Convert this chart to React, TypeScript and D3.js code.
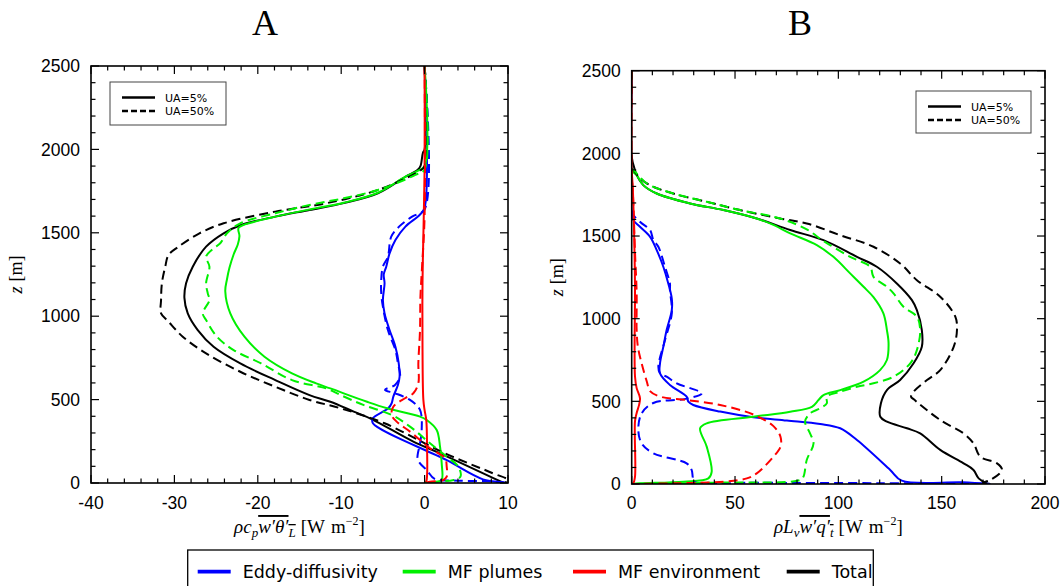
import React from 'react';
import * as d3 from 'd3';

type P = [number, number]; // [flux, z]

// ---------- tick labels ----------
const zTicks = [0, 500, 1000, 1500, 2000, 2500];
const xTicksA = [-40, -30, -20, -10, 0, 10];
const xTicksB = [0, 50, 100, 150, 200];
const legendNames = ['Eddy-diffusivity', 'MF plumes', 'MF environment', 'Total'];
const uaNames = ['UA=5%', 'UA=50%'];
const panelTitles = ['A', 'B'];

// ---------- Panel A : rho cp w'thetaL' ----------
const A_ED_5: P[] = [[0,2500],[0,1650],[-0.6,1607],[-2.3,1537],[-3.5,1457],[-4.2,1377],[-4.6,1297],[-4.9,1250],[-4.8,1197],[-5,1097],[-4.8,1017],[-4.2,917],[-3.5,817],[-3.1,717],[-3,637],[-3.2,588],[-3.75,518],[-3.95,478],[-4.35,448],[-6.2,388],[-6.2,358],[2.6,138],[7,22],[9.6,3],[9.8,0]];
const A_ED_50: P[] = [[0,2500],[0,1640],[-1.5,1597],[-3,1540],[-4,1477],[-4.4,1357],[-5,1297],[-5.2,1217],[-5.2,1137],[-5,1057],[-4.4,917],[-3.5,797],[-3.2,718],[-2.95,637],[-3.55,588],[-4.75,558],[-3.55,538],[-1.75,498],[-0.55,438],[-0.35,318],[-0.55,238],[-0.85,148],[-0.55,118],[0.25,78],[1.2,25],[4,14],[8,10],[9.6,0]];
const A_MF_5: P[] = [[0,2500],[0,1900],[-0.9,1870],[-2.3,1836],[-5.6,1740],[-9.7,1680],[-13.8,1640],[-17.9,1597],[-20.5,1565],[-22.3,1530],[-22.2,1480],[-22.4,1430],[-22.9,1370],[-23.4,1290],[-23.7,1220],[-23.9,1150],[-23.3,1017],[-21.6,877],[-19.2,757],[-15.9,657],[-13,597],[-11.3,567],[-6.9,487],[-4.5,448],[-0.55,398],[0.25,378],[1.45,318],[1.85,218],[2.05,118],[2.05,18],[1.5,8],[0,0]];
const A_MF_50: P[] = [[0,2500],[0,1880],[-1.1,1847],[-5.6,1757],[-9.7,1707],[-13.8,1667],[-17.9,1617],[-22.1,1557],[-23.7,1497],[-24.5,1437],[-25.3,1407],[-26.2,1357],[-25.8,1297],[-26.2,1197],[-26,1137],[-25.8,1097],[-26.6,1017],[-26.2,977],[-24.9,877],[-22.9,797],[-19.6,717],[-15.9,617],[-11.8,567],[-10.1,528],[-7.35,468],[-3.95,408],[-1.75,338],[0.65,238],[2.65,158],[4.05,98],[4.3,38],[3.5,18],[1.5,8],[0,0]];
const A_ENV_5: P[] = [[0,2500],[0,1900],[-0.1,1600],[-0.25,1200],[-0.25,800],[-0.15,500],[0,437],[0.2,378],[0.3,200],[0.3,50],[0.2,10],[0,0]];
const A_ENV_50: P[] = [[0,2500],[0,1600],[-0.3,1300],[-0.5,1117],[-0.55,917],[-0.75,718],[-0.75,598],[-1.35,538],[-2.35,508],[-3.75,457],[-3.95,408],[-3.35,368],[-1.75,308],[-0.55,258],[0.65,208],[2.45,148],[2.65,98],[2.65,38],[2.25,18],[0.65,8],[0,0]];
const A_TOT_5: P[] = [[0,2500],[0,2000],[-0.2,1980],[-0.5,1900],[-0.86,1876],[-2.3,1836],[-5.6,1737],[-9.7,1678],[-13.8,1637],[-17.9,1597],[-22,1547],[-24.1,1497],[-26.2,1417],[-27.8,1297],[-28.6,1197],[-28.8,1110],[-28.4,1017],[-27.2,917],[-25.3,817],[-22.1,717],[-17.9,617],[-13.8,527],[-11.3,487],[-8.5,428],[-6.3,382],[-1.35,248],[1.85,178],[9.5,0]];
const A_TOT_50: P[] = [[0,2500],[0,1900],[-1.1,1857],[-5.6,1757],[-11.8,1677],[-17.9,1627],[-24.1,1557],[-27,1497],[-29.5,1417],[-30.7,1367],[-31.1,1297],[-31.5,1197],[-31.6,1097],[-31.6,1017],[-30.7,967],[-29,877],[-26.2,777],[-22.1,667],[-17.9,577],[-13.8,498],[-10.1,448],[-4.8,358],[2.25,182],[8.2,58],[10,18],[9.6,0]];

// ---------- Panel B : rho Lv w'qt' ----------
const B_ED_5: P[] = [[0,2500],[0,1650],[0.8,1596],[4,1556],[8.9,1495],[12.1,1415],[15.3,1314],[17.7,1213],[19.4,1122],[19.4,1052],[16.9,931],[15.3,830],[13.7,730],[13.7,669],[18.5,599],[26.6,528],[27.4,498],[29.8,478],[42.8,438],[58.9,404],[75.1,384],[91.2,363],[100.9,337],[109,266],[125.1,85],[130.7,20],[160,10],[173.5,0]];
const B_ED_50: P[] = [[0,2500],[0,1650],[4,1586],[8.9,1536],[10.5,1475],[12.9,1435],[16.1,1314],[18.5,1213],[18.5,1173],[19.4,1032],[16.1,870],[12.9,710],[13.7,669],[16.9,649],[21.8,609],[33.9,548],[26,515],[10.5,490],[4.8,427],[3.2,327],[4.8,246],[10.5,186],[26.6,125],[29,85],[29.5,45],[29.9,15],[60,8],[120,5],[172,0]];
const B_MF_5: P[] = [[0,2500],[0,1900],[2.4,1868],[5.6,1808],[12.1,1757],[28.2,1697],[44.4,1657],[60.5,1606],[68,1570],[76.7,1516],[89.6,1445],[97.6,1374],[105.7,1274],[112.2,1193],[117,1130],[121.8,1032],[123.5,931],[124.3,851],[123.5,750],[120.2,689],[112.2,619],[100.9,568],[92.8,538],[90.4,508],[87.2,467],[76.7,437],[58.9,407],[36.3,367],[33.1,337],[36.3,226],[38.7,74],[37.1,34],[25,14],[4,4],[0,0]];
const B_MF_50: P[] = [[0,2500],[0,1900],[0.8,1898],[7.3,1818],[20.1,1757],[36.3,1707],[52.4,1657],[71.8,1606],[84.7,1540],[92.8,1470],[105.7,1374],[115.4,1314],[117,1253],[123.5,1193],[126.7,1153],[131.5,1072],[138,1012],[139.6,931],[138,810],[134.8,730],[126.7,649],[117,609],[109,588],[100.9,558],[94.4,528],[94.4,488],[91.2,458],[86.3,427],[83.9,377],[86.3,306],[88,246],[84.7,145],[83.1,44],[81.5,24],[40,8],[0,0]];
const B_ENV_5: P[] = [[0,2500],[0,1900],[0.5,1800],[1.2,1500],[1.6,1200],[1.6,650],[2.4,580],[4,520],[3.6,480],[2.4,430],[1.6,380],[1.6,44],[0.8,5],[0,0]];
const B_ENV_50: P[] = [[0,2500],[0,1900],[0.8,1700],[1.6,1400],[2.4,1153],[2.4,932],[3,830],[4.8,730],[7.3,620],[9,560],[14,528],[26.6,508],[42.8,478],[58.9,420],[68.6,350],[72,286],[72,226],[68.6,165],[60.5,64],[55.7,34],[44.4,14],[20,4],[0,0]];
const B_TOT_5: P[] = [[0,2500],[0,1980],[1.6,1898],[2.4,1868],[5.6,1808],[12.1,1757],[28.2,1697],[44.4,1657],[60.5,1606],[76.7,1536],[92.8,1475],[109,1374],[118.6,1314],[128.3,1213],[135.6,1112],[138,1052],[140.4,931],[140.4,830],[136.4,730],[129.9,629],[123.5,568],[120.6,488],[120.3,407],[123.5,377],[133.2,337],[139.6,306],[149.3,206],[160.6,125],[165.4,85],[167.9,34],[171.9,4],[173.5,0]];
const B_TOT_50: P[] = [[0,2500],[0,1920],[0.8,1898],[7.3,1818],[20.1,1757],[36.3,1707],[52.4,1657],[71.8,1606],[84.7,1576],[100.9,1505],[117,1435],[129.9,1334],[138,1233],[149.3,1133],[156.6,1012],[157.4,931],[155.8,830],[149.3,689],[142.9,629],[136.4,558],[135.2,528],[136.5,512],[149.3,387],[160.6,306],[165.4,246],[168.7,165],[176.8,125],[179.2,85],[173.5,24],[170,8],[172,0]];

const COLORS = ['#0000ff', '#00f000', '#ff0000', '#000000'];
const DASH = '9,5';

interface Series { data: P[]; color: string; dashed: boolean }
interface PanelCfg {
  id: string; title: string; x0: number; x1: number; y0: number; y1: number;
  xDomain: [number, number]; xTicks: number[]; minor: number;
  titleX: number; ylabX: number;
  legend: { x: number; y: number; w: number; h: number };
  series: Series[]; xlabel: 'A' | 'B';
}

const mk = (ed5: P[], ed50: P[], mf5: P[], mf50: P[], env5: P[], env50: P[], tot5: P[], tot50: P[]): Series[] => [
  { data: tot5, color: COLORS[3], dashed: false },
  { data: ed5, color: COLORS[0], dashed: false },
  { data: mf5, color: COLORS[1], dashed: false },
  { data: env5, color: COLORS[2], dashed: false },
  { data: tot50, color: COLORS[3], dashed: true },
  { data: ed50, color: COLORS[0], dashed: true },
  { data: mf50, color: COLORS[1], dashed: true },
  { data: env50, color: COLORS[2], dashed: true },
];

const panels: PanelCfg[] = [
  {
    id: 'A', title: panelTitles[0], x0: 91, x1: 508, y0: 66, y1: 483,
    xDomain: [-40, 10], xTicks: xTicksA, minor: 2, titleX: 265, ylabX: 22,
    legend: { x: 110, y: 82, w: 116, h: 43 },
    series: mk(A_ED_5, A_ED_50, A_MF_5, A_MF_50, A_ENV_5, A_ENV_50, A_TOT_5, A_TOT_50), xlabel: 'A',
  },
  {
    id: 'B', title: panelTitles[1], x0: 631.7, x1: 1045, y0: 70.7, y1: 484,
    xDomain: [0, 200], xTicks: xTicksB, minor: 10, titleX: 800, ylabX: 563,
    legend: { x: 916, y: 91, w: 115, h: 42 },
    series: mk(B_ED_5, B_ED_50, B_MF_5, B_MF_50, B_ENV_5, B_ENV_50, B_TOT_5, B_TOT_50), xlabel: 'B',
  },
];

const TICK_FONT = "'Liberation Sans', Arial, sans-serif";
const SERIF = "'Liberation Serif', 'Times New Roman', serif";
const LEG_FONT = "'DejaVu Sans', Verdana, sans-serif";

function Panel({ p }: { p: PanelCfg }) {
  const x = d3.scaleLinear().domain(p.xDomain).range([p.x0, p.x1]);
  const y = d3.scaleLinear().domain([0, 2500]).range([p.y1, p.y0]);
  const line = d3.line<P>().x(d => x(d[0])).y(d => y(d[1])).curve(d3.curveCatmullRom.alpha(0.5));
  const minorX = d3.range(p.xDomain[0], p.xDomain[1] + 1e-9, p.minor);
  const minorZ = d3.range(0, 2501, 100);
  const MAJ = 8, MIN = 4.5;
  const cx = (p.x0 + p.x1) / 2;
  const cy = (p.y0 + p.y1) / 2;
  const L = p.legend;
  return (
    <g>
      <defs>
        <clipPath id={`clip${p.id}`}>
          <rect x={p.x0} y={p.y0} width={p.x1 - p.x0} height={p.y1 - p.y0} />
        </clipPath>
      </defs>
      <text x={p.titleX} y={35} textAnchor="middle" fontFamily={SERIF} fontSize={36}>{p.title}</text>
      <g clipPath={`url(#clip${p.id})`}>
        {p.series.map((s, i) => (
          <path key={i} d={line(s.data) || ''} fill="none" stroke={s.color} strokeWidth={2}
            strokeDasharray={s.dashed ? DASH : undefined} strokeLinejoin="round" />
        ))}
      </g>
      {/* ticks */}
      <g stroke="#000" strokeWidth={1.2}>
        {minorX.map((v, i) => {
          const major = p.xTicks.some(t => Math.abs(t - v) < 1e-6);
          const l = major ? MAJ : MIN;
          return (
            <g key={'x' + i}>
              <line x1={x(v)} x2={x(v)} y1={p.y1} y2={p.y1 - l} />
              <line x1={x(v)} x2={x(v)} y1={p.y0} y2={p.y0 + l} />
            </g>
          );
        })}
        {minorZ.map((v, i) => {
          const major = zTicks.includes(v);
          const l = major ? MAJ : MIN;
          return (
            <g key={'z' + i}>
              <line x1={p.x0} x2={p.x0 + l} y1={y(v)} y2={y(v)} />
              <line x1={p.x1} x2={p.x1 - l} y1={y(v)} y2={y(v)} />
            </g>
          );
        })}
      </g>
      <rect x={p.x0} y={p.y0} width={p.x1 - p.x0} height={p.y1 - p.y0} fill="none" stroke="#000" strokeWidth={1.6} />
      {/* tick labels */}
      {p.xTicks.map(t => (
        <text key={'xl' + t} x={x(t)} y={508.5} textAnchor="middle" fontFamily={TICK_FONT} fontSize={17.5}>{t}</text>
      ))}
      {zTicks.map(t => (
        <text key={'zl' + t} x={p.x0 - 11} y={y(t) + 6.2} textAnchor="end" fontFamily={TICK_FONT} fontSize={17.5}>{t}</text>
      ))}
      {/* axis labels */}
      <text transform={`translate(${p.ylabX},${cy}) rotate(-90)`} textAnchor="middle" fontFamily={SERIF} fontSize={18}>
        <tspan fontStyle="italic">z</tspan><tspan dx={5}>[m]</tspan>
      </text>
      {p.xlabel === 'A' ? (
        <text x={cx} y={533} textAnchor="middle" fontFamily={SERIF} fontSize={19}>
          <tspan fontStyle="italic">ρc</tspan>
          <tspan fontStyle="italic" fontSize={13} dy={4}>p</tspan>
          <tspan dy={-4} fontStyle="italic" style={{ textDecoration: 'overline' }}>w′θ′<tspan fontSize={13} dy={4}>L</tspan></tspan>
          <tspan dy={-4} dx={5}>[W</tspan>
          <tspan dx={6}>m</tspan>
          <tspan fontSize={12} dy={-8}>−2</tspan>
          <tspan dy={8}>]</tspan>
        </text>
      ) : (
        <text x={cx} y={533} textAnchor="middle" fontFamily={SERIF} fontSize={19}>
          <tspan fontStyle="italic">ρL</tspan>
          <tspan fontStyle="italic" fontSize={13} dy={4}>v</tspan>
          <tspan dy={-4} fontStyle="italic" style={{ textDecoration: 'overline' }}>w′q′<tspan fontSize={13} dy={4}>t</tspan></tspan>
          <tspan dy={-4} dx={5}>[W</tspan>
          <tspan dx={6}>m</tspan>
          <tspan fontSize={12} dy={-8}>−2</tspan>
          <tspan dy={8}>]</tspan>
        </text>
      )}
      {/* inner legend */}
      <rect x={L.x} y={L.y} width={L.w} height={L.h} fill="#fff" stroke="#444" strokeWidth={1} />
      {uaNames.map((n, i) => {
        const ly = L.y + 15.5 + i * 13.5;
        return (
          <g key={n}>
            <line x1={L.x + 12} x2={L.x + 45} y1={ly} y2={ly} stroke="#000" strokeWidth={2.6}
              strokeDasharray={i === 1 ? '6,3' : undefined} />
            <text x={L.x + 55} y={ly + 4} fontFamily={LEG_FONT} fontSize={11}>{n}</text>
          </g>
        );
      })}
    </g>
  );
}

const legendX = [197.7, 402.7, 573, 786.7];

export default function App() {
  return (
    <svg width={1062} height={586} style={{ position: 'absolute', left: 0, top: 0, background: '#fff' }}>
      <rect x={0} y={0} width={1062} height={586} fill="#fff" />
      {panels.map(p => <Panel key={p.id} p={p} />)}
      <rect x={187.7} y={550} width={685.6} height={50} fill="#fff" stroke="#000" strokeWidth={1.3} />
      {legendNames.map((n, i) => (
        <g key={n}>
          <line x1={legendX[i]} x2={legendX[i] + 33} y1={571.7} y2={571.7} stroke={COLORS[i]} strokeWidth={3.8} />
          <text x={legendX[i] + 45} y={578} fontFamily={LEG_FONT} fontSize={17.5}>{n}</text>
        </g>
      ))}
    </svg>
  );
}
